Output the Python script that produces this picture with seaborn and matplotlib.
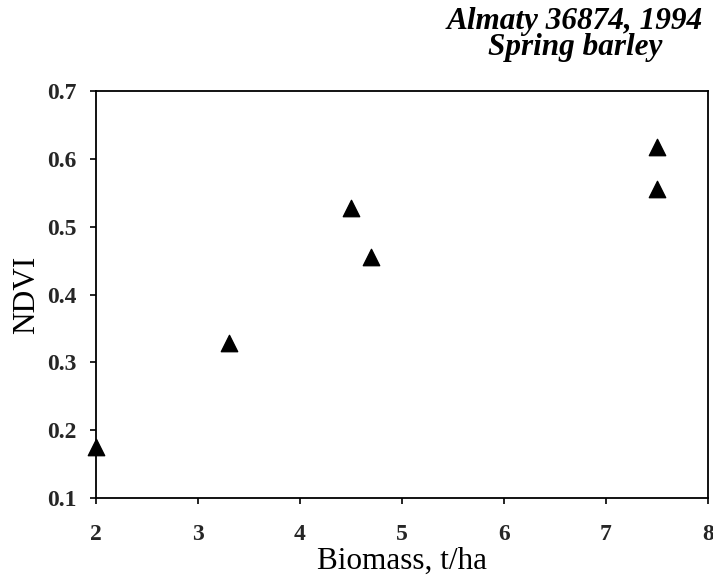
import matplotlib
matplotlib.use("Agg")
import matplotlib.pyplot as plt
import seaborn as sns
import pandas as pd

biomass = [2.0, 3.3, 4.5, 4.7, 7.5, 7.5]
ndvi = [0.175, 0.328, 0.528, 0.456, 0.617, 0.556]
x_ticks = [2, 3, 4, 5, 6, 7, 8]
y_ticks = [0.1, 0.2, 0.3, 0.4, 0.5, 0.6, 0.7]
title_lines = ["Almaty 36874, 1994", "Spring barley"]

sns.set_theme(style="ticks")
plt.rcParams['font.family'] = ['Liberation Serif', 'DejaVu Serif']

df = pd.DataFrame({"Biomass": biomass, "NDVI": ndvi})

fig = plt.figure(figsize=(7.13, 5.77), dpi=100)
ax = fig.add_axes([0.1346, 0.137, 0.858, 0.705])
sns.scatterplot(data=df, x="Biomass", y="NDVI", marker="^", s=140,
                color="black", edgecolor="black", ax=ax, clip_on=False, zorder=5)

ax.set_xlim(2, 8)
ax.set_ylim(0.1, 0.7)
ax.set_xticks(x_ticks)
ax.set_yticks(y_ticks)
ax.set_xticklabels([str(t) for t in x_ticks], fontweight="bold", fontsize=17)
ax.set_yticklabels([f"{t:.1f}" for t in y_ticks], fontweight="bold", fontsize=17)
ax.tick_params(direction="out", length=4, width=1.2, color="black")
ax.tick_params(axis="y", pad=10)
ax.tick_params(axis="x", pad=15)
for sp in ax.spines.values():
    sp.set_visible(True)
    sp.set_color("black")
    sp.set_linewidth(1.3)

ax.set_xlabel("Biomass, t/ha", fontsize=22.5, labelpad=1, color="black")
ax.set_ylabel("NDVI", fontsize=22.5, labelpad=4, color="black")

fig.text(575 / 713, 1 - 7 / 577, "\n".join(title_lines), ha="center", va="top",
         multialignment="center", linespacing=0.88,
         fontsize=22.5, fontweight="bold", fontstyle="italic", color="black")

fig.savefig("out.png", dpi=100, facecolor="white")
